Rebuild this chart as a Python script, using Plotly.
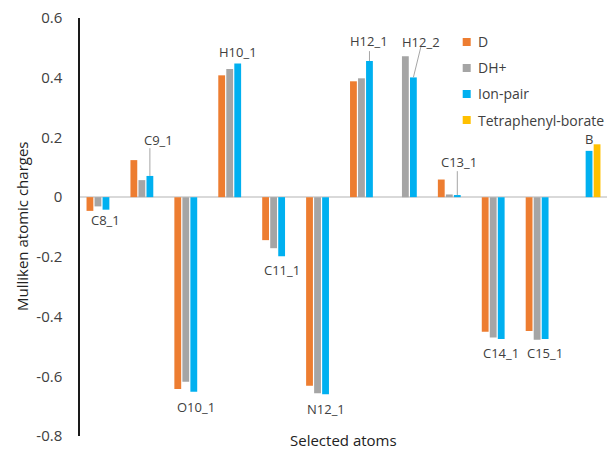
import plotly.graph_objects as go

categories = ["C8_1", "C9_1", "O10_1", "H10_1", "C11_1", "N12_1",
              "H12_1", "H12_2", "C13_1", "C14_1", "C15_1", "B"]
series_names = ["D", "DH+", "Ion-pair", "Tetraphenyl-borate"]
d_vals = [-0.046, 0.124, -0.643, 0.408, -0.144, -0.632,
          0.388, None, 0.059, -0.451, -0.448, None]
dh_vals = [-0.031, 0.057, -0.618, 0.429, -0.171, -0.657,
           0.398, 0.472, 0.009, -0.470, -0.478, None]
ion_vals = [-0.042, 0.071, -0.652, 0.448, -0.198, -0.660,
            0.456, 0.401, 0.007, -0.475, -0.475, 0.155]
tpb_vals = [None, None, None, None, None, None,
            None, None, None, None, None, 0.177]
label_y = [-0.077, 0.191, -0.704, 0.486, -0.245, -0.710,
           0.523, 0.519, 0.117, -0.523, -0.523, 0.194]
label_dx = [0, 0.2, 0.05, 0, 0, 0, 0, 0.18, 0.03, 0, 0, 0]
y_ticks = [-0.8, -0.6, -0.4, -0.2, 0, 0.2, 0.4, 0.6]
y_ticktext = ["-0.8", "-0.6", "-0.4", "-0.2", "0", "0.2", "0.4", "0.6"]
# leader lines: category -> (x offset of label end, y of label end)
leaders = {"C9_1": (0.0, 0.164), "H12_1": (0.0, 0.489),
           "H12_2": (0.17, 0.503), "C13_1": (0.0, 0.087)}

colors = ["#ED7D31", "#A5A5A5", "#00B0F0", "#FFC000"]
FONT = "Open Sans"
TXT = "#404040"
BARGAP = 0.27

fig = go.Figure()
for name, vals, col in zip(series_names, [d_vals, dh_vals, ion_vals, tpb_vals], colors):
    fig.add_trace(go.Bar(x=categories, y=vals, name=name, marker_color=col,
                         marker_line_width=0, showlegend=False))

# blue bar center offset within a group (4 slots per group)
blue_off = (1 - BARGAP) / 8

annotations = []
for i, (cat, ly, dx) in enumerate(zip(categories, label_y, label_dx)):
    annotations.append(dict(x=i + blue_off + dx, y=ly, xref="x", yref="y", text=cat,
                            showarrow=False, font=dict(family=FONT, size=13, color=TXT)))

shapes = []
for cat, (ldx, ly2) in leaders.items():
    i = categories.index(cat)
    shapes.append(dict(type="line", xref="x", yref="y",
                       x0=i + blue_off, y0=ion_vals[i],
                       x1=i + blue_off + ldx, y1=ly2,
                       line=dict(color="#A6A6A6", width=1)))

# custom legend (small square swatches like the reference)
H = 451
top, bottom = 18, 15
plot_h = H - top - bottom
left = 80
plot_w = 607 - left
leg_rows = [42, 68, 94, 120]
for name, col, py in zip(series_names, colors, leg_rows):
    shapes.append(dict(type="rect", xref="paper", yref="paper",
                       x0=(462.7 - left) / plot_w, x1=(470.7 - left) / plot_w,
                       y0=(H - bottom - (py + 4)) / plot_h,
                       y1=(H - bottom - (py - 4)) / plot_h,
                       fillcolor=col, line=dict(width=0)))
    annotations.append(dict(x=(475.5 - left) / plot_w, y=(H - bottom - py) / plot_h,
                            xref="paper", yref="paper", xanchor="left", yanchor="middle",
                            text=name, showarrow=False,
                            font=dict(family=FONT, size=14, color=TXT)))

# axis titles
annotations.append(dict(x=(22 - left) / plot_w, y=0.5, xref="paper", yref="paper",
                        text="Mulliken atomic charges", textangle=-90, showarrow=False,
                        xanchor="center", yanchor="middle",
                        font=dict(family=FONT, size=15, color="#222222")))
annotations.append(dict(x=0.5, y=-bottom / plot_h, xref="paper", yref="paper",
                        yanchor="bottom", borderpad=0, text="Selected atoms",
                        showarrow=False,
                        font=dict(family=FONT, size=15, color="#222222")))

fig.update_layout(
    width=607, height=451,
    margin=dict(l=left, r=0, t=top, b=bottom),
    paper_bgcolor="white", plot_bgcolor="white",
    barmode="group", bargap=BARGAP, bargroupgap=0.15,
    showlegend=False,
    annotations=annotations, shapes=shapes,
    font=dict(family=FONT, color=TXT),
)
fig.update_xaxes(type="category", showticklabels=False, showline=False,
                 showgrid=False, zeroline=False, ticks="", range=[-0.5, 11.5])
fig.update_yaxes(range=[-0.8, 0.6], tickvals=y_ticks, ticktext=y_ticktext,
                 showgrid=False, showline=True, linecolor="#1a1a1a", linewidth=1.5,
                 zeroline=True, zerolinecolor="#D9D9D9", zerolinewidth=1.5,
                 ticks="", ticklabelstandoff=13,
                 tickfont=dict(family=FONT, size=15, color=TXT))

fig.write_html("out.html")
